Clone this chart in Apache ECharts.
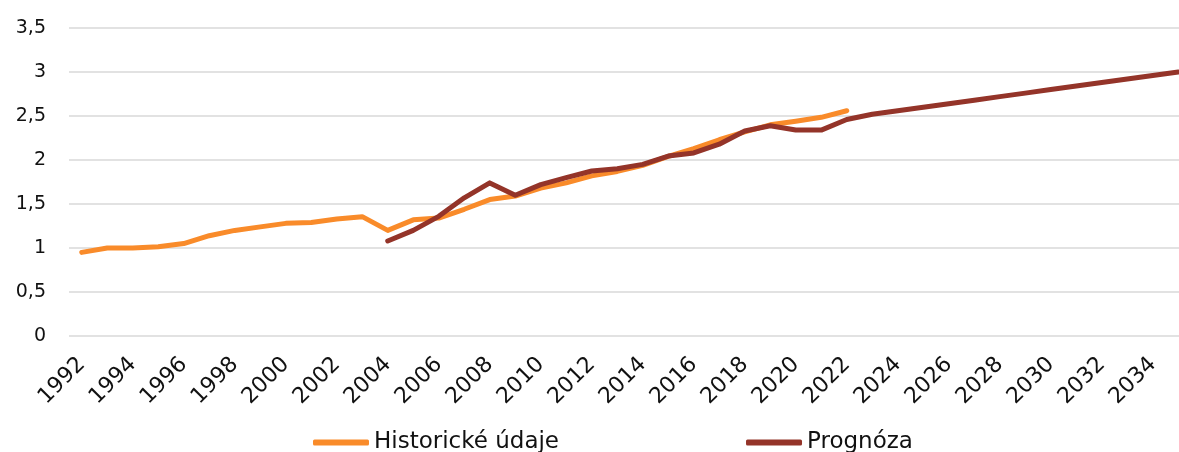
<!DOCTYPE html>
<html lang="cs">
<head>
    <meta charset="utf-8">
    <title>Historické údaje a prognóza</title>
    <script src="https://cdn.jsdelivr.net/npm/echarts@6/dist/echarts.min.js"></script>
    <style>
        html, body { margin: 0; padding: 0; background: #fff; overflow: hidden; }
        /* graf je o kousek širší než okno, pravý okraj je oříznutý */
        #main { width: 1191px; height: 452px; }
    </style>
</head>
<body>
<div id="main"></div>
<script>
    // roky na ose x
    var years = [];
    for (var y = 1992; y <= 2035; y++) years.push(String(y));

    // historické údaje 1992-2022
    var historicke = [0.95, 1.0, 1.0, 1.015, 1.05, 1.14, 1.2, 1.24, 1.28, 1.29,
        1.33, 1.356, 1.2, 1.32, 1.34, 1.44, 1.55, 1.59, 1.68, 1.74,
        1.82, 1.87, 1.94, 2.04, 2.13, 2.23, 2.32, 2.40, 2.44, 2.485, 2.56,
        null, null, null, null, null, null, null, null, null, null, null, null, null];

    // prognóza 2004-2035
    var prognoza = [null, null, null, null, null, null, null, null, null, null, null, null,
        1.08, 1.2, 1.36, 1.57, 1.74, 1.60, 1.72, 1.80, 1.875, 1.90,
        1.95, 2.045, 2.08, 2.18, 2.33, 2.39, 2.34, 2.34, 2.46,
        2.52, 2.56, 2.60, 2.64, 2.68, 2.72, 2.76, 2.80, 2.84, 2.88, 2.92, 2.96, 3.00];

    var fontName = 'DejaVu Sans';

    var myChart = echarts.init(document.getElementById('main'));

    var option = {
        animation: false,
        color: ['#F98B2A', '#943429'],
        grid: {
            left: 69,
            top: 28,
            right: 0,
            bottom: 116,
            containLabel: false
        },
        legend: {
            bottom: -7,
            left: 308,
            itemGap: 187,
            itemWidth: 56,
            itemHeight: 6,
            icon: 'roundRect',
            textStyle: { fontFamily: fontName, fontSize: 23, color: '#111' },
            data: ['Historické údaje', 'Prognóza']
        },
        xAxis: {
            type: 'category',
            data: years,
            boundaryGap: true,
            axisLine: { show: false },
            axisTick: { show: false },
            axisLabel: {
                interval: 1,
                rotate: 45,
                margin: 25,
                fontFamily: fontName,
                fontSize: 22,
                color: '#111'
            }
        },
        yAxis: {
            type: 'value',
            min: 0,
            max: 3.5,
            interval: 0.5,
            axisLine: { show: false },
            axisTick: { show: false },
            splitLine: { lineStyle: { color: '#D9D9D9', width: 1.5 } },
            axisLabel: {
                margin: 23,
                fontFamily: fontName,
                fontSize: 19,
                color: '#111',
                formatter: function (v) { return String(v).replace('.', ','); }
            }
        },
        series: [
            {
                name: 'Historické údaje',
                type: 'line',
                data: historicke,
                symbol: 'none',
                lineStyle: { width: 5, cap: 'round', join: 'round' }
            },
            {
                name: 'Prognóza',
                type: 'line',
                data: prognoza,
                symbol: 'none',
                lineStyle: { width: 5, cap: 'round', join: 'round' }
            }
        ]
    };

    myChart.setOption(option);
</script>
</body>
</html>
